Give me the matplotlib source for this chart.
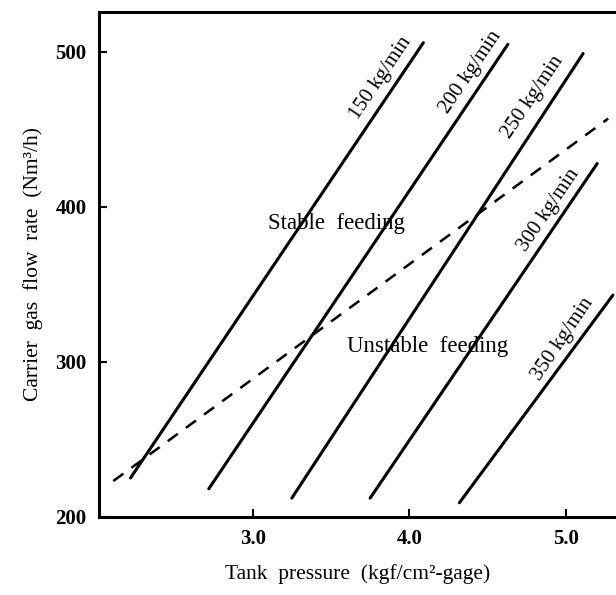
import matplotlib
matplotlib.use("Agg")
import matplotlib.pyplot as plt
import numpy as np

# --- Dados ---
vazoes = ["150", "200", "250", "300", "350"]          # kg/min
p_inicio = [2.22, 2.72, 3.25, 3.75, 4.32]             # kgf/cm2
q_inicio = [225, 218, 212, 212, 209]                  # Nm3/h
p_fim = [4.09, 4.63, 5.11, 5.20, 5.30]
q_fim = [506, 505, 499, 428, 343]

# limite estável / instável (tracejado)
limite_p = [2.11, 5.27]
limite_q = [223, 457]

# posição dos rótulos de vazão
rotulo_p = [3.82, 4.39, 4.79, 4.89, 4.98]
rotulo_q = [483, 487, 471, 398, 315]

x_ticks = [3.0, 4.0, 5.0]
y_ticks = [200, 300, 400, 500]

plt.rcParams["font.family"] = ["Liberation Serif", "DejaVu Serif"]

fig = plt.figure(figsize=(6.16, 5.95), dpi=100)
ax = fig.add_axes([0.161, 0.1316, 0.839, 0.8487])

for p0, q0, p1, q1 in zip(p_inicio, q_inicio, p_fim, q_fim):
    ax.plot([p0, p1], [q0, q1], color="black", lw=2.2, solid_capstyle="round")

ax.plot(limite_p, limite_q, color="black", lw=1.8, dashes=(5, 4))

for v, x, y in zip(vazoes, rotulo_p, rotulo_q):
    ax.text(x, y, f"{v} kg/min", rotation=56, ha="center", va="center",
            fontsize=15, rotation_mode="anchor")

ax.text(3.535, 389, "Stable  feeding", ha="center", va="center", fontsize=16.5)
ax.text(4.115, 310, "Unstable  feeding", ha="center", va="center", fontsize=16.5)

ax.set_xlim(2.02, 5.32)
ax.set_ylim(200, 526)
ax.set_xticks(x_ticks)
ax.set_xticklabels([f"{t:.1f}" for t in x_ticks])
ax.set_yticks(y_ticks)
ax.tick_params(direction="in", length=6, width=1.5, labelsize=15, pad=9)
for lbl in ax.get_xticklabels() + ax.get_yticklabels():
    lbl.set_fontweight("bold")

for lado in ["left", "bottom", "top"]:
    ax.spines[lado].set_linewidth(2.2)
ax.spines["right"].set_visible(False)

ax.set_xlabel("Tank  pressure  (kgf/cm²-gage)", fontsize=15.5, labelpad=11)
ax.set_ylabel("Carrier  gas  flow  rate  (Nm³/h)", fontsize=15.5, labelpad=9)

fig.savefig("out.png", dpi=100)
